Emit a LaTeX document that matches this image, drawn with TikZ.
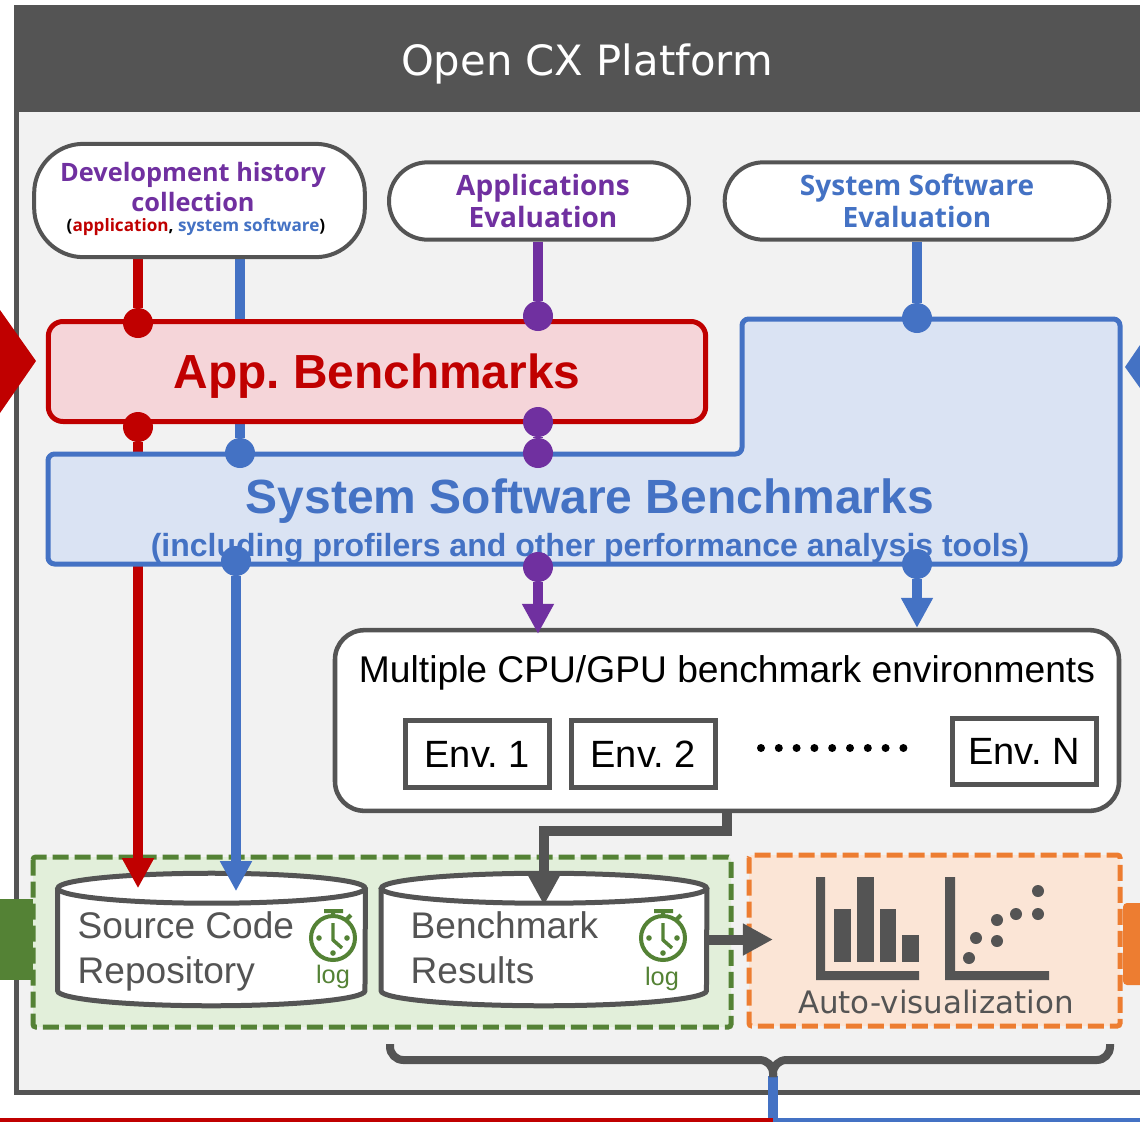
\documentclass[tikz,border=0pt]{standalone}
\usepackage{fontspec}
\setmainfont{Liberation Sans}
\newfontfamily\titlefont{DejaVu Sans}
\newfontfamily\labelfont{Open Sans}
\usepackage{xcolor}
\usetikzlibrary{arrows.meta,positioning,calc}
\definecolor{darkline}{HTML}{545454}
\definecolor{paneback}{HTML}{F2F2F2}
\definecolor{appred}{HTML}{C00000}
\definecolor{appfill}{HTML}{F5D5D9}
\definecolor{sysblue}{HTML}{4472C4}
\definecolor{sysfill}{HTML}{DAE3F3}
\definecolor{devpurple}{HTML}{7030A0}
\definecolor{loggreen}{HTML}{548235}
\definecolor{greenfill}{HTML}{E2EFDA}
\definecolor{vizorange}{HTML}{ED7D31}
\definecolor{orangefill}{HTML}{FBE5D6}
\pgfdeclarelayer{bg}
\pgfdeclarelayer{lines}
\pgfsetlayers{bg,lines,main}
\frenchspacing
\tikzset{
	x=0.75pt, y=-0.75pt,
	pill/.style={
			rectangle, draw=darkline, fill=white, line width=3pt,
			rounded corners=29pt, align=center, inner sep=0pt,
		},
	bench/.style={
			rectangle, line width=3.75pt, rounded corners=11pt,
			minimum height=75pt,
		},
	dbase/.style={
			rectangle, inner sep=0pt, minimum height=99pt,
		},
	dbline/.style={
			draw=darkline, fill=white, line width=3.75pt,
		},
	envbox/.style={
			rectangle, draw=darkline, fill=white, line width=3.75pt,
			minimum width=108pt, minimum height=50pt,
			font=\fontsize{28.5}{32}\selectfont,
		},
	dbtext/.style={
			anchor=west, align=left, text=darkline,
			font=\fontsize{27.8}{33.75}\selectfont,
		},
	logtext/.style={
			text=loggreen, font=\fontsize{19}{22}\selectfont,
		},
	headline/.style={
			align=center, inner sep=0pt,
			font=\labelfont\bfseries\fontsize{21}{24}\selectfont,
		},
	redwire/.style={draw=appred, line width=7.5pt},
	bluewire/.style={draw=sysblue, line width=7.5pt},
	purplewire/.style={draw=devpurple, line width=7.5pt},
	graywire/.style={draw=darkline, line width=7.5pt},
	bigtip/.style={-{Triangle[length=22.5pt,width=22.5pt]}},
	reddot/.style={circle, fill=appred, minimum size=22.5pt, inner sep=0pt},
	bluedot/.style={circle, fill=sysblue, minimum size=22.5pt, inner sep=0pt},
	purpledot/.style={circle, fill=devpurple, minimum size=22.5pt, inner sep=0pt},
	stopwatch/.pic={
			\draw[loggreen, line width=3pt] (0,0) circle (22);
			\draw[loggreen, line width=3pt] (-9,-27) -- (10,-27) (0,-27) -- (0,-22) (13,-18) -- (18,-23);
			\draw[loggreen, line width=2.6pt] (0,-15) -- (0,2) -- (9,10);
			\foreach \sx/\sy in {-14/0,14/0,0/15}
			\fill[loggreen] (\sx,\sy) circle (2.8);
		},
}
\begin{document}
\begin{tikzpicture}
	\useasboundingbox (0,0) rectangle (1140,1122);

	% bottom exits
	\coordinate (redexit) at (0,1122);
	\coordinate (blueexit) at (1150,1122);

	\begin{pgfonlayer}{bg}
		% platform
		\draw[darkline, line width=3.75pt, fill=paneback] (16,60) rectangle (1160,1092);
		\node[rectangle, fill=darkline, minimum width=859.5pt, minimum height=80pt] (platform) at (587,58.5) {};
		\node[text=white, font=\titlefont\fontsize{31.3}{36}\selectfont] (platformtext) at (587,64) {Open CX Platform};

		% tabs at the picture's edge
		\fill[appred] (0,310) -- (36,361) -- (0,413) -- cycle;
		\fill[sysblue] (1140,345) -- (1125,367) -- (1140,388) -- cycle;
		\fill[loggreen] (0,899) rectangle (35,980);
		\fill[vizorange, rounded corners=3pt] (1123,903) rectangle (1160,985);

		% data and visualization areas
		\draw[loggreen, line width=3.75pt, fill=greenfill, dash pattern=on 12pt off 4.5pt, rounded corners=2pt] (33,857) rectangle (731,1027);
		\draw[vizorange, line width=3.75pt, fill=orangefill, dash pattern=on 12pt off 4.5pt, rounded corners=2pt] (749,855) rectangle (1120,1026);

		\node[dbase, minimum width=230.5pt] (repo) at (211.5,939.5) {};
		\node[dbase, minimum width=244pt] (results) at (544,939.5) {};
		\foreach \dbnode/\dbrx in {repo/153.7,results/162.7}
		{
			\draw[dbline] ($(\dbnode.north west)+(0,15)$) -- ($(\dbnode.south west)+(0,-15)$)
			arc[start angle=180, end angle=0, x radius=\dbrx, y radius=15]
			-- ($(\dbnode.north east)+(0,15)$);
			\draw[dbline] ($(\dbnode.north)+(0,15)$) ellipse[x radius=\dbrx, y radius=15];
		}
		\node[dbtext] (repotext) at (73,951) {Source Code\\Repository};
		\node[dbtext] (resultstext) at (406,948) {Benchmark\\Results};
		\pic at (333,938) {stopwatch};
		\pic at (663,938) {stopwatch};
		\node[logtext] (repolog) at (333,977) {log};
		\node[logtext] (resultslog) at (662,979) {log};

		% charts
		\fill[darkline] (816,877) -- (825,877) -- (825,971) -- (919,971) -- (919,980) -- (816,980) -- cycle;
		\foreach \bl/\br/\bt in {834/851/909,857/874/877,880/896/909,902/919/935}
		\fill[darkline] (\bl,\bt) rectangle (\br,962);
		\fill[darkline] (945,877) -- (955,877) -- (955,971) -- (1049,971) -- (1049,980) -- (945,980) -- cycle;
		\foreach \px/\py in {969/958,976/938,997/941,997/920,1016/914,1038/914,1038/891}
		\fill[darkline] (\px,\py) circle (6);
		\node[text=darkline, font=\titlefont\fontsize{23.2}{28}\selectfont] (autoviz) at (936,1002) {Auto-visualization};

		% environments
		\node[rectangle, draw=darkline, fill=white, line width=3.4pt, rounded corners=22pt,
			minimum width=588pt, minimum height=135.5pt] (envs) at (727,720.5) {};
		\node[font=\fontsize{27.9}{32}\selectfont] (envhead) at (727,673) {Multiple CPU/GPU benchmark environments};
		\node[envbox] (env1) at (477,754) {Env. 1};
		\node[envbox] (env2) at (643,754) {Env. 2};
		\node[envbox] (envn) at (1024,751.5) {Env. N};
		\foreach \k in {0,...,8}
		\fill[black] (761+17.8*\k,748) circle (4);
	\end{pgfonlayer}

	% requesting side
	\node[pill, minimum width=248pt, minimum height=85pt, rounded corners=37pt] (dev) at (199.5,200.5) {};
	\node[headline, text=devpurple, font=\labelfont\bfseries\fontsize{19}{22}\selectfont] (devtext) at (193,187) {Development history\\collection};
	\node[font=\labelfont\bfseries\fontsize{12.85}{16}\selectfont] (devsub) at (196,227)
	{(\textcolor{appred}{application}, \textcolor{sysblue}{system software})};
	\node[pill, minimum width=225pt, minimum height=58pt] (appeval) at (539,201) {};
	\node[headline, text=devpurple] (appevaltext) at (543,201) {Applications\\Evaluation};
	\node[pill, minimum width=288.5pt, minimum height=58pt] (syseval) at (917,201) {};
	\node[headline, text=sysblue] (sysevaltext) at (917,201) {System Software\\Evaluation};

	% benchmarks
	\node[bench, draw=appred, fill=appfill, minimum width=493pt] (app) at (377,371.5) {};
	\node[text=appred, font=\bfseries\fontsize{35.9}{42}\selectfont] (apptext) at (377,376.5) {App. Benchmarks};
	\coordinate (sysnw) at (48,454);
	\coordinate (sysse) at (1120,564);
	\coordinate (sysstep) at (742,319);
	\draw[sysblue, fill=sysfill, line width=3.75pt, rounded corners=5pt]
	(sysnw) -- (sysstep |- sysnw) -- (sysstep) -- (sysse |- sysstep) -- (sysse) -- (sysnw |- sysse) -- cycle;
	\node[text=sysblue, font=\bfseries\fontsize{36}{42}\selectfont] (systitle) at (590,501) {System Software Benchmarks};
	\node[text=sysblue, font=\bfseries\fontsize{24}{28}\selectfont] (syssub) at (590,548) {(including profilers and other performance analysis tools)};

	% junctions
	\node[reddot] (apptop) at (138,323) {};
	\node[reddot] (appbottom) at (138,427) {};
	\node[purpledot] (apppurpletop) at (538,316) {};
	\node[purpledot] (apppurplebottom) at (538,422) {};
	\node[purpledot] (syspurpletop) at (538,453) {};
	\node[purpledot] (syspurplebottom) at (538,567) {};
	\node[bluedot] (sysdevtop) at (240,453) {};
	\node[bluedot] (sysdevbottom) at (236,561) {};
	\node[bluedot] (sysevaltop) at (917,318) {};
	\node[bluedot] (sysevalbottom) at (917,564) {};

	\begin{pgfonlayer}{lines}
		\draw[redwire] (apptop |- dev.south) -- (apptop);
		\draw[redwire, bigtip] (appbottom) -- ($(appbottom |- repo.north)+(0,15)$);
		\draw[bluewire] (sysdevtop |- dev.south) -- (sysdevtop);
		\draw[bluewire, bigtip] (sysdevbottom) -- ($(sysdevbottom |- repo.north)+(0,18)$);
		\draw[purplewire] (apppurpletop |- appeval.south) -- (apppurpletop);
		\draw[purplewire] (apppurplebottom) -- (syspurpletop);
		\draw[purplewire, bigtip] (syspurplebottom) -- ($(syspurplebottom |- envs.north)+(0,6)$);
		\draw[bluewire] (syseval.south) -- (sysevaltop);
		\draw[bluewire, bigtip] (sysevalbottom) -- (sysevalbottom |- envs.north);
		\draw[graywire, bigtip] (envs.south) -- ++(0,18) -| ($(results.north)+(0,32)$);
		\draw[graywire, bigtip] (results.east) -- ++(66,0);
	\end{pgfonlayer}

	% bracket and exits
	\coordinate (bracketmid) at (773,1060);
	\coordinate (bracketleft) at (390,1044);
	\coordinate (bracketright) at (1110,1044);
	\draw[bluewire] (773,1076) -- (773,1122);
	\draw[sysblue, line width=6pt] (773,1122) -- (blueexit);
	\draw[appred, line width=6pt] (redexit) -- (773,1122);
	\draw[graywire, line width=6pt, rounded corners=10pt] (bracketleft) |- (bracketmid) -- ++(0,17);
	\draw[graywire, line width=6pt, rounded corners=10pt] (bracketright) |- (bracketmid) -- ++(0,17);
\end{tikzpicture}
\end{document}
